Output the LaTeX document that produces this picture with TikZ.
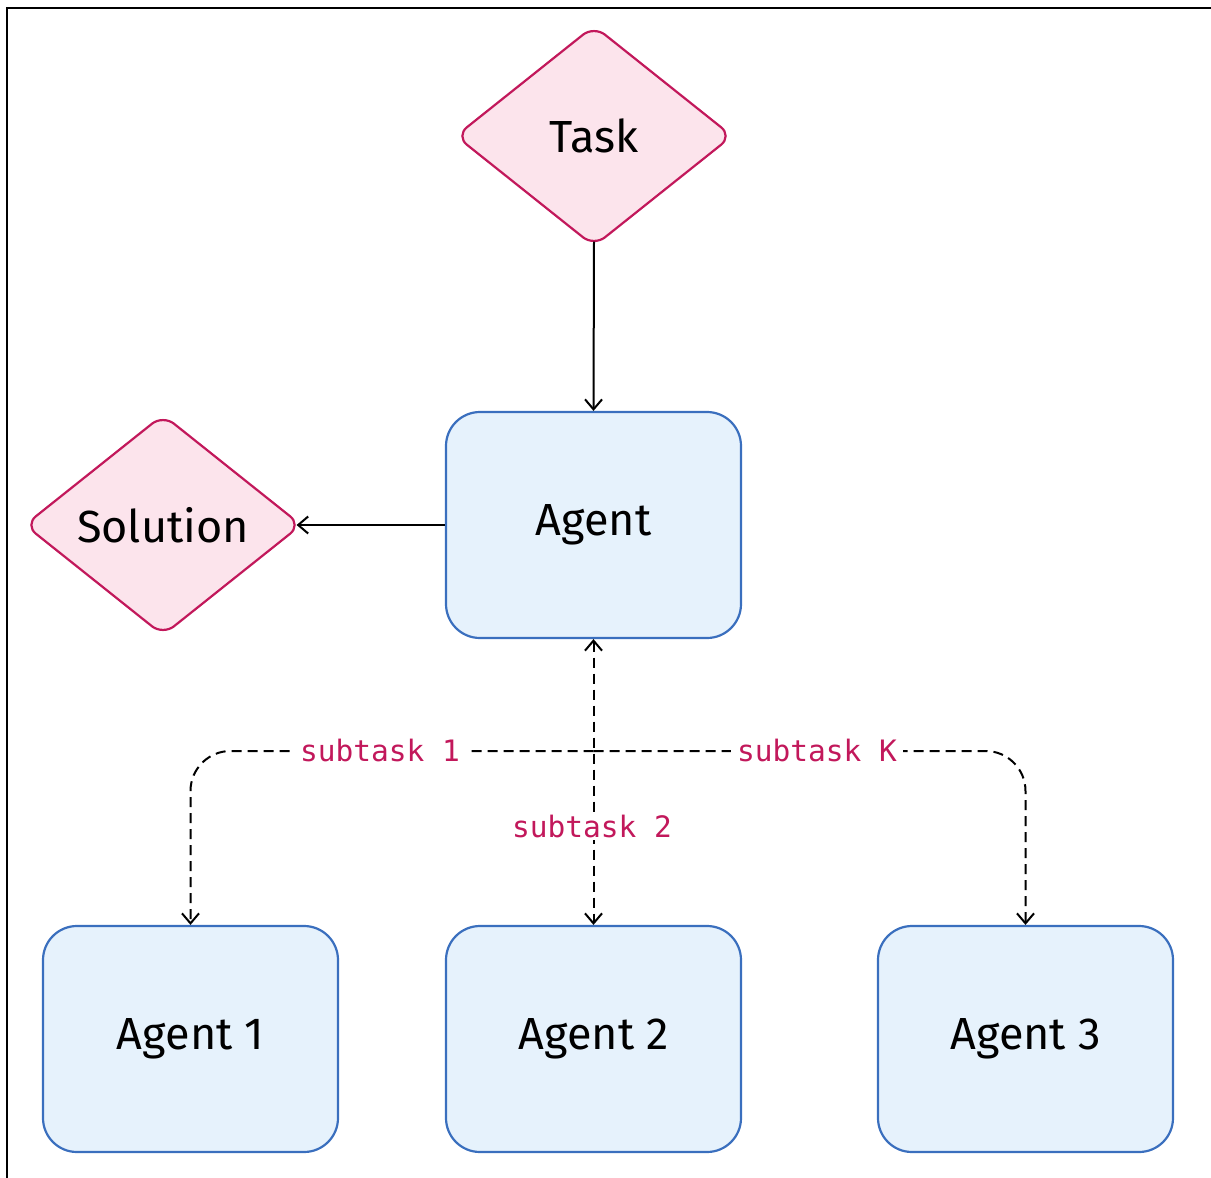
\documentclass[tikz,border=0pt]{standalone}
\usepackage{fontspec}
\setmainfont{Fira Sans}
\newfontfamily\labelmono{DejaVu Sans Mono}
\usetikzlibrary{shapes.geometric,arrows.meta}
\definecolor{pinkfill}{HTML}{FCE4EC}
\definecolor{pinkline}{HTML}{C2185B}
\definecolor{bluefill}{HTML}{E6F2FC}
\definecolor{blueline}{HTML}{3A6FBE}
\tikzset{
  decision/.style={diamond, draw=pinkline, fill=pinkfill, line width=2.2pt,
    minimum width=277pt, minimum height=221pt, inner sep=0pt, rounded corners=14pt,
    font=\fontsize{45}{54}\selectfont},
  agentbox/.style={rectangle, draw=blueline, fill=bluefill, line width=2.2pt,
    minimum width=295pt, minimum height=226pt, inner sep=0pt, rounded corners=34pt,
    font=\fontsize{45}{54}\selectfont},
  flow/.style={line width=2pt, -{Straight Barb[length=10pt,width=17pt,line width=2pt]}},
  subflow/.style={line width=2pt, dash pattern=on 10pt off 6pt, rounded corners=40pt},
  subtip/.style={-{Straight Barb[length=10pt,width=17pt,line width=2pt]}},
  sublabel/.style={fill=white, text=pinkline, inner sep=6pt,
    font=\labelmono\fontsize{29.5}{34}\selectfont},
}
\begin{document}
\begin{tikzpicture}[x=1pt,y=-1pt]
\useasboundingbox (0,0) rectangle (1211,1178);
\draw[line width=1.8pt] (7,1178) -- (7,8) -- (1211,8);
\node[decision] (task) at (594,136) {Task};
\node[decision] (sol) at (163,525) {Solution};
\node[agentbox] (agent) at (593.5,525) {Agent};
\node[agentbox] (a1) at (190.5,1039) {Agent 1};
\node[agentbox] (a2) at (593.5,1039) {Agent 2};
\node[agentbox] (a3) at (1025.5,1039) {Agent 3};
\coordinate (mid) at (593.5,751);
\draw[flow] ([yshift=6pt]task.south) -- (agent.north);
\draw[flow] (agent.west) -- ([xshift=-6pt]sol.east);
\draw[subflow, {Straight Barb[length=10pt,width=17pt,line width=2pt]}-{Straight Barb[length=10pt,width=17pt,line width=2pt]}] (agent) -- (a2);
\draw[subflow, subtip] (mid) -| (a1.north);
\draw[subflow, subtip] (mid) -| (a3.north);
\node[sublabel] (l1) at (380,750) {subtask 1};
\node[sublabel] (lk) at (817,750) {subtask K};
\node[sublabel, inner sep=3pt] (l2) at (592,826) {subtask 2};
\end{tikzpicture}
\end{document}
